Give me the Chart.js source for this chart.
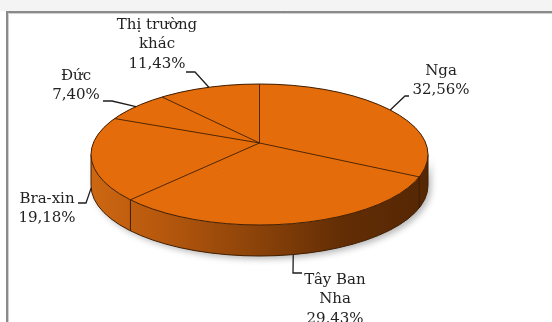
<!DOCTYPE html>
<html>
<head>
<meta charset="utf-8">
<script src="https://cdn.jsdelivr.net/npm/chart.js@4.4.1/dist/chart.umd.min.js"></script>
<style>
  html, body { margin: 0; padding: 0; background: #fff; }
  #wrap { width: 552px; height: 322px; position: relative; }
</style>
</head>
<body>
<div id="wrap"><canvas id="c"></canvas></div>
<script>
// Export share by market (%), clockwise from 12 o'clock
const markets = ['Nga', 'Tây Ban Nha', 'Bra-xin', 'Đức', 'Thị trường khác'];
const shares = [32.56, 29.43, 19.18, 7.40, 11.43];
const nameLines = [['Nga'], ['Tây Ban', 'Nha'], ['Bra-xin'], ['Đức'], ['Thị trường', 'khác']];

// Label placement: text block centre x, first line centre y, leader elbow points,
// and how far down the side wall the leader ends (0 = top rim, 1 = bottom rim)
const labelLayout = [
  { x: 441, y: 71, elbow: [[409, 96], [405, 96]], drop: 0 },
  { x: 335, y: 280, elbow: [[302, 273], [293, 273]], drop: 1 },
  { x: 47, y: 199, elbow: [[78, 203], [86, 203]], drop: 0.95 },
  { x: 76, y: 76, elbow: [[103, 101], [112, 101]], drop: 0 },
  { x: 157, y: 25, elbow: [[186, 72], [195, 72]], drop: 0 }
];

// Tilted disc seen in perspective: the rim projects to the ellipse E,
// interior points follow a projective map around the apex (x0, y0)
const E = { cx: 259.5, cy: 154.5, rx: 168.5, ry: 70.5, depth: 31 };
const P = { x0: 259.5, y0: 143, rx: 166.2, ry: 68.6, k: 0.163 };
const TOP = '#E46C0A';
const EDGE = '#3f1e02';
const FONT = '15px "DejaVu Serif", serif';
const LINE_H = 19.5;

const fmt = v => v.toFixed(2).replace('.', ',') + '%';

// angle on the disc (canvas convention, 0 = right, clockwise) -> screen point on the rim
function proj(a, dy) {
  const u = Math.cos(a), v = Math.sin(a);
  const s = 1 / (1 - P.k * v);
  return [P.x0 + P.rx * u * s, P.y0 + P.ry * v * s + (dy || 0)];
}

function frontAngles(arcs) {
  const lo = Math.asin(P.k), hi = Math.PI - lo;
  const out = [];
  arcs.forEach(arc => {
    let a = arc.startAngle % (2 * Math.PI);
    if (a < 0) a += 2 * Math.PI;
    if (a > lo && a < hi) out.push(a);
  });
  return out;
}

const pie3d = {
  id: 'pie3d',
  beforeDraw(chart) {
    const ctx = chart.ctx;
    ctx.save();
    ctx.fillStyle = '#ffffff';
    ctx.fillRect(0, 0, chart.width, chart.height);
    ctx.fillStyle = '#f4f4f4';
    ctx.fillRect(0, 0, chart.width, 11);
    ctx.strokeStyle = '#8a8a8a';
    ctx.lineWidth = 2;
    ctx.beginPath();
    ctx.moveTo(7, chart.height);
    ctx.lineTo(7, 12);
    ctx.lineTo(chart.width, 12);
    ctx.stroke();
    ctx.strokeStyle = '#d0d0d0';
    ctx.lineWidth = 1;
    ctx.beginPath();
    ctx.moveTo(8.5, chart.height);
    ctx.lineTo(8.5, 13.5);
    ctx.lineTo(chart.width, 13.5);
    ctx.stroke();
    ctx.restore();
  },
  beforeDatasetsDraw(chart) {
    const ctx = chart.ctx;
    const arcs = chart.getDatasetMeta(0).data;
    const D = E.depth;

    // side wall of the front half
    const grad = ctx.createLinearGradient(E.cx - E.rx, 0, E.cx + E.rx, 0);
    grad.addColorStop(0, '#cd6712');
    grad.addColorStop(0.22, '#b5570d');
    grad.addColorStop(0.5, '#8a4209');
    grad.addColorStop(0.75, '#622d05');
    grad.addColorStop(1, '#552704');
    ctx.save();
    ctx.shadowColor = 'rgba(0,0,0,0.28)';
    ctx.shadowBlur = 6;
    ctx.shadowOffsetX = 3;
    ctx.shadowOffsetY = 3;
    ctx.beginPath();
    ctx.ellipse(E.cx, E.cy, E.rx, E.ry, 0, 0, Math.PI, false);
    ctx.ellipse(E.cx, E.cy + D, E.rx, E.ry, 0, Math.PI, 0, true);
    ctx.closePath();
    ctx.fillStyle = grad;
    ctx.fill();
    ctx.restore();

    // wall outline and slice seams on the wall
    ctx.save();
    ctx.strokeStyle = EDGE;
    ctx.lineWidth = 1;
    ctx.beginPath();
    ctx.ellipse(E.cx, E.cy + D, E.rx, E.ry, 0, 0, Math.PI, false);
    ctx.stroke();
    ctx.beginPath();
    ctx.moveTo(E.cx + E.rx, E.cy); ctx.lineTo(E.cx + E.rx, E.cy + D);
    ctx.moveTo(E.cx - E.rx, E.cy); ctx.lineTo(E.cx - E.rx, E.cy + D);
    frontAngles(arcs).forEach(a => {
      const p = proj(a);
      ctx.moveTo(p[0], p[1]);
      ctx.lineTo(p[0], p[1] + D);
    });
    ctx.stroke();
    ctx.restore();

    // map the library's circular pie onto the rim ellipse
    const a0 = arcs[0];
    ctx.save();
    ctx.translate(E.cx, E.cy);
    ctx.scale(E.rx / a0.outerRadius, E.ry / a0.outerRadius);
    ctx.translate(-a0.x, -a0.y);
  },
  afterDatasetsDraw(chart) {
    const ctx = chart.ctx;
    ctx.restore();
    const arcs = chart.getDatasetMeta(0).data;

    // slice seams on the top face and rim outline
    ctx.save();
    ctx.strokeStyle = EDGE;
    ctx.lineWidth = 0.9;
    ctx.beginPath();
    arcs.forEach(arc => {
      const p = proj(arc.startAngle);
      ctx.moveTo(P.x0, P.y0);
      ctx.lineTo(p[0], p[1]);
    });
    ctx.stroke();
    ctx.lineWidth = 1;
    ctx.beginPath();
    ctx.ellipse(E.cx, E.cy, E.rx, E.ry, 0, 0, 2 * Math.PI);
    ctx.stroke();
    ctx.restore();

    // data labels with leader lines
    ctx.save();
    ctx.font = FONT;
    ctx.fillStyle = '#222222';
    ctx.textAlign = 'center';
    ctx.textBaseline = 'middle';
    ctx.strokeStyle = '#1e1e1e';
    ctx.lineWidth = 1.3;
    arcs.forEach((arc, i) => {
      const L = labelLayout[i];
      const lines = nameLines[i].concat([fmt(shares[i])]);
      lines.forEach((t, k) => ctx.fillText(t, L.x, L.y + k * LINE_H));
      const mid = (arc.startAngle + arc.endAngle) / 2;
      const end = proj(mid, L.drop * E.depth);
      ctx.beginPath();
      ctx.moveTo(L.elbow[0][0], L.elbow[0][1]);
      ctx.lineTo(L.elbow[1][0], L.elbow[1][1]);
      ctx.lineTo(end[0], end[1]);
      ctx.stroke();
    });
    ctx.restore();
  }
};

new Chart(document.getElementById('c'), {
  type: 'pie',
  data: {
    labels: markets,
    datasets: [{
      data: shares,
      backgroundColor: TOP,
      borderColor: TOP,
      borderWidth: 3,
      borderAlign: 'inner'
    }]
  },
  options: {
    responsive: true,
    maintainAspectRatio: false,
    animation: false,
    events: [],
    layout: { padding: 0 },
    plugins: {
      legend: { display: false },
      tooltip: { enabled: false }
    }
  },
  plugins: [pie3d]
});
</script>
</body>
</html>
